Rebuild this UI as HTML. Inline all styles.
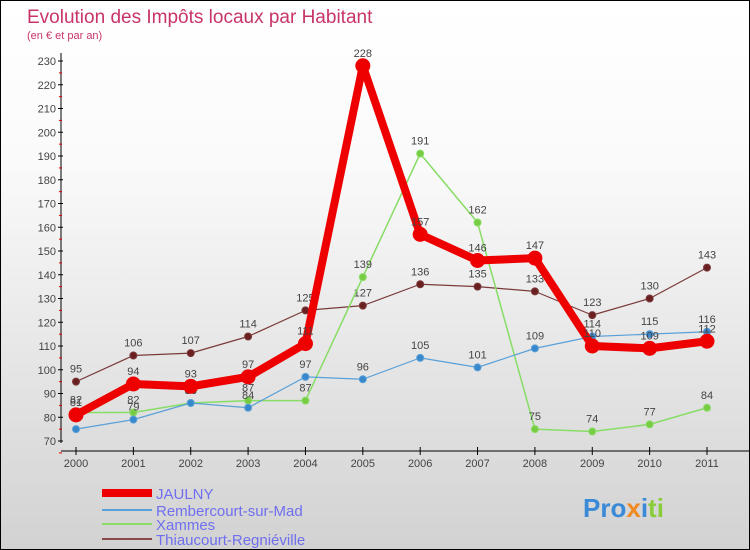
<!DOCTYPE html>
<html><head><meta charset="utf-8"><style>
body{margin:0}
#c{width:748px;height:548px;border:1px solid #000;background:linear-gradient(#fff,#fafafa 30%,#d2d2d2);position:relative;overflow:hidden;font-family:"Liberation Sans",sans-serif}
</style></head><body>
<div id="c">
<svg id="s" width="748" height="548">
<text x="26" y="22" font-size="19" fill="#c8346a">Evolution des Impôts locaux par Habitant</text>
<text x="26" y="38" font-size="11" fill="#c8346a">(en € et par an)</text>
<g id="axes"></g><g id="series"></g>
<g font-size="15" fill="#6f6ff0">
<line x1="101" y1="492" x2="151" y2="492" stroke="#e00" stroke-width="8"/>
<text x="155" y="498">JAULNY</text>
<line x1="101" y1="509" x2="151" y2="509" stroke="#5aa0d8" stroke-width="2"/>
<text x="155" y="515">Rembercourt-sur-Mad</text>
<line x1="101" y1="523" x2="151" y2="523" stroke="#88dd66" stroke-width="2"/>
<text x="155" y="529">Xammes</text>
<line x1="101" y1="538" x2="151" y2="538" stroke="#8a4a4a" stroke-width="2"/>
<text x="155" y="544">Thiaucourt-Regniéville</text>
</g>
<text x="582" y="516" font-size="26" font-weight="bold"><tspan fill="#3a8ad8">Pro</tspan><tspan fill="#f08a20">x</tspan><tspan fill="#3a8ad8">i</tspan><tspan fill="#8acc3a">ti</tspan></text>
</svg></div>
<script>
const years=["2000","2001","2002","2003","2004","2005","2006","2007","2008","2009","2010","2011"];
const jaulny=[81,94,93,97,111,228,157,146,147,110,109,112];
const rembercourt=[75,79,86,84,97,96,105,101,109,114,115,116];
const xammes=[82,82,86,87,87,139,191,162,75,74,77,84];
const thiaucourt=[95,106,107,114,125,127,136,135,133,123,130,143];
const yTicks=[70,80,90,100,110,120,130,140,150,160,170,180,190,200,210,220,230];
const NS="http://www.w3.org/2000/svg";
const X=i=>75+i*(706-75)/11;
const Y=v=>440-(v-70)*(380/160);
function mk(t,a,p){const e=document.createElementNS(NS,t);for(const k in a)e.setAttribute(k,a[k]);p.appendChild(e);return e;}
const ax=document.getElementById('axes');
let l=mk('line',{x1:60,y1:52,x2:60,y2:442,stroke:'#000'},ax);


l=mk('line',{x1:60,y1:450,x2:748,y2:450,stroke:'#000'},ax);


yTicks.forEach(v=>{const y=Y(v);mk('line',{x1:57,y1:y,x2:62,y2:y,stroke:'#000'},ax);
mk('line',{x1:58,y1:y+11.9,x2:61,y2:y+11.9,stroke:'#d00'},ax);
const t=mk('text',{x:55,y:y+4,'font-size':11,'text-anchor':'end',fill:'#444'},ax);t.textContent=v;

});
years.forEach((yr,i)=>{mk('line',{x1:X(i),y1:446,x2:X(i),y2:454,stroke:'#000'},ax);
const t=mk('text',{x:X(i),y:466,'font-size':11,'text-anchor':'middle',fill:'#444'},ax);t.textContent=yr;

});
const sg=document.getElementById('series');
function draw(name,data,col,w,r,dot){const g=mk('g',{},sg);


mk('polyline',{points:data.map((v,i)=>X(i)+','+Y(v)).join(' '),fill:'none',stroke:col,'stroke-width':w,'stroke-linejoin':'round'},g);
data.forEach((v,i)=>{const c=mk('circle',{cx:X(i),cy:Y(v),r:r,fill:dot,stroke:col,'stroke-width':1},g);


const t=mk('text',{x:X(i),y:Y(v)-9,'font-size':11,'text-anchor':'middle',fill:'#444'},g);t.textContent=v;

});}
draw('thiaucourt',thiaucourt,'#7a3a3a',1.2,3.5,'#6a2020');
draw('xammes',xammes,'#88dd66',1.5,3.5,'#77cc44');
draw('rembercourt',rembercourt,'#5aa0d8',1.2,3.5,'#3a88cc');
draw('jaulny',jaulny,'#ee0000',8,7,'#ee0000');
</script>
</body></html>
